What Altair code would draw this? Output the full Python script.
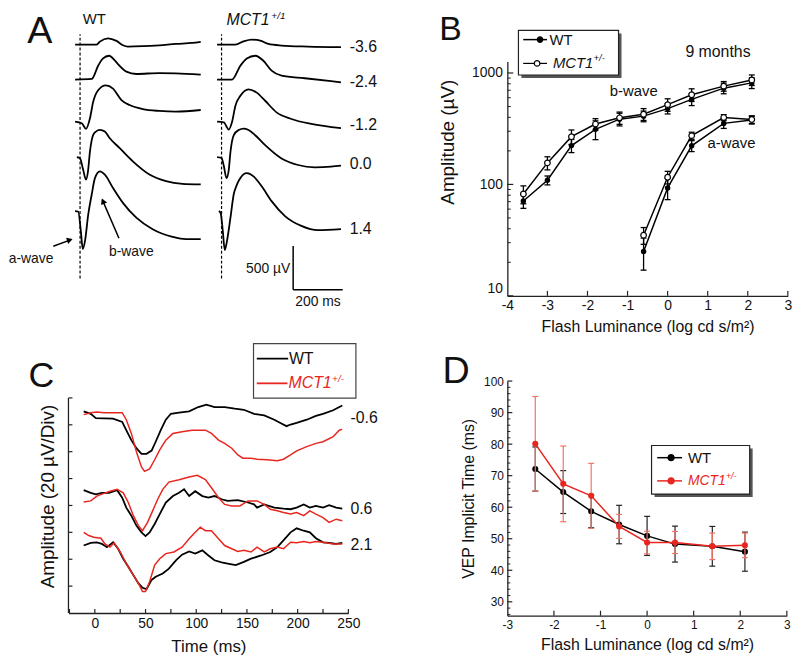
import altair as alt
import pandas as pd

FONT = "Liberation Sans"
INK = "#111111"
RED = "#e8261f"
RED_BAR = "#f07466"

# ================= Panel A : ERG traces (ms from flash, µV from baseline) =================
a_levels = ["-3.6", "-2.4", "-1.2", "0.0", "1.4"]

a_wt_m36_t = [-20, 67, 80, 113, 147, 173, 193, 253, 320, 387, 453, 487]
a_wt_m36_v = [0, 0, 34, 72, 42, -8, -23, -19, -8, 8, 19, 31]
a_wt_m24_t = [-20, 47, 73, 92, 117, 140, 153, 187, 227, 320, 387, 487]
a_wt_m24_v = [0, 7, 159, 240, 273, 220, 177, 91, 64, 75, 72, 57]
a_wt_m12_t = [-20, 7, 24, 40, 53, 73, 104, 133, 167, 200, 253, 320, 387, 487]
a_wt_m12_v = [0, -19, -83, 38, 227, 360, 415, 378, 247, 190, 144, 122, 114, 133]
a_wt_p00_t = [-13, 0, 12, 24, 32, 40, 53, 64, 80, 100, 120, 160, 213, 280, 347, 413, 487]
a_wt_p00_v = [0, -15, -140, -257, -163, 65, 255, 292, 311, 292, 216, 102, -49, -200, -276, -307, -314]
a_wt_p14_t = [-20, -7, 3, 11, 20, 33, 47, 60, 80, 100, 133, 173, 227, 293, 373, 427, 487]
a_wt_p14_v = [0, -8, -227, -435, -341, -38, 190, 378, 455, 417, 265, 94, -76, -208, -295, -322, -322]

a_mct_m36_t = [-18, 56, 89, 122, 156, 189, 242, 349, 482]
a_mct_m36_v = [0, 0, 37, 57, 45, 7, -11, -23, -30]
a_mct_m24_t = [-18, 42, 76, 102, 136, 169, 202, 242, 336, 482]
a_mct_m24_v = [0, 0, 159, 242, 273, 216, 102, 45, 15, -31]
a_mct_m12_t = [-18, 9, 29, 42, 56, 76, 109, 142, 176, 222, 282, 362, 482]
a_mct_m12_v = [0, -8, -91, -8, 182, 295, 369, 332, 239, 106, 30, -27, -76]
a_mct_p00_t = [-18, 0, 9, 20, 29, 36, 49, 69, 89, 109, 136, 176, 242, 309, 376, 442, 482]
a_mct_p00_v = [0, -10, -100, -242, -150, 60, 250, 310, 326, 310, 250, 136, -16, -91, -117, -110, -99]
a_mct_p14_t = [-11, -4, 5, 13, 22, 36, 49, 62, 76, 102, 129, 162, 202, 256, 322, 389, 482]
a_mct_p14_v = [0, -19, -227, -447, -341, -76, 190, 303, 379, 435, 398, 284, 114, -57, -170, -219, -208]

# ================= Panel B : ERG amplitudes =================
b_lum = [-3.6, -3.0, -2.4, -1.8, -1.2, -0.6, 0.0, 0.6, 1.4, 2.1]
b_wt_bwave = [71, 109, 223, 312, 385, 410, 479, 580, 731, 815]
b_wt_bwave_err = [10, 10, 30, 60, 50, 45, 50, 70, 80, 90]
b_mct_bwave = [82, 156, 268, 348, 396, 427, 520, 638, 762, 866]
b_mct_bwave_err = [15, 21, 40, 41, 50, 52, 67, 83, 76, 94]
b_lum_a = [-0.6, 0.0, 0.6, 1.4, 2.1]
b_wt_awave = [25, 93, 222, 353, 378]
b_wt_awave_err = [8, 20, 25, 35, 30]
b_mct_awave = [35, 116, 274, 398, 383]
b_mct_awave_err = [6, 15, 20, 25, 30]

# ================= Panel C : VEP traces (ms, divisions of 20 µV) =================
c_wt_m06_t = [-11, -4, 1, 9, 18, 27, 31, 36, 41, 46, 51, 56, 60, 65, 70, 75, 83, 93, 102, 110, 118, 128, 138, 147,
              157, 167, 177, 183, 189, 193, 199, 209, 218, 225, 235, 244]
c_wt_m06_v = [7.50, 7.41, 7.25, 7.24, 7.23, 7.11, 6.80, 6.43, 6.13, 5.92, 5.92, 6.04, 6.37, 6.80, 7.19, 7.41, 7.45,
              7.50, 7.66, 7.75, 7.66, 7.66, 7.60, 7.56, 7.41, 7.35, 7.19, 7.07, 6.95, 7.01, 7.07, 7.19, 7.33, 7.41,
              7.54, 7.72]
c_mct_m06_t = [-11, -4, 2, 9, 15, 27, 31, 36, 41, 46, 49, 54, 59, 64, 70, 77, 86, 96, 109, 115, 122, 128, 135, 141,
               146, 154, 160, 170, 180, 186, 193, 199, 209, 218, 225, 235, 241, 244]
c_mct_m06_v = [7.38, 7.45, 7.48, 7.45, 7.45, 7.45, 7.19, 6.68, 6.00, 5.43, 5.27, 5.36, 5.70, 6.07, 6.43, 6.68, 6.74,
               6.80, 6.80, 6.68, 6.43, 6.31, 6.13, 5.88, 5.76, 5.76, 5.72, 5.70, 5.66, 5.72, 5.88, 6.03, 6.19, 6.31,
               6.37, 6.56, 6.80, 6.83]
c_wt_p06_t = [-11, -4, 1, 7, 14, 22, 27, 31, 36, 41, 46, 50, 54, 59, 64, 70, 77, 83, 88, 93, 99, 106, 112, 118, 125,
              131, 141, 151, 157, 160, 167, 177, 186, 193, 199, 206, 212, 218, 225, 231, 238, 244]
c_wt_p06_v = [4.57, 4.47, 4.41, 4.47, 4.47, 4.57, 4.29, 3.92, 3.62, 3.25, 3.00, 2.86, 3.00, 3.31, 3.68, 4.11, 4.35,
              4.47, 4.60, 4.35, 4.53, 4.35, 4.29, 4.35, 4.23, 4.17, 4.20, 4.11, 4.04, 3.92, 4.04, 3.92, 3.88, 3.86,
              3.92, 4.04, 3.92, 3.98, 3.92, 4.01, 3.92, 3.88]
c_mct_p06_t = [-11, -4, 2, 9, 15, 22, 28, 33, 38, 43, 47, 52, 57, 62, 67, 73, 83, 93, 101, 109, 115, 122, 128, 135,
               143, 151, 160, 167, 173, 180, 186, 193, 199, 206, 212, 218, 225, 231, 238, 244]
c_mct_p06_v = [4.13, 4.17, 4.35, 4.45, 4.53, 4.60, 4.47, 4.11, 3.62, 3.25, 3.06, 3.37, 3.80, 4.23, 4.60, 4.87, 4.96,
               5.06, 5.12, 4.96, 4.66, 4.29, 4.04, 3.98, 3.98, 4.17, 4.17, 4.04, 3.86, 3.80, 3.74, 3.68, 3.74, 3.62,
               3.80, 3.68, 3.55, 3.37, 3.49, 3.43]
c_wt_p21_t = [-11, -4, 2, 7, 12, 18, 23, 28, 33, 38, 43, 47, 51, 56, 60, 67, 73, 80, 86, 93, 99, 106, 112, 118, 125,
              131, 139, 147, 154, 164, 173, 180, 186, 193, 199, 206, 212, 218, 225, 231, 238, 244]
c_wt_p21_v = [2.51, 2.61, 2.63, 2.57, 2.45, 2.63, 2.39, 2.02, 1.72, 1.41, 1.10, 0.94, 0.89, 1.23, 1.35, 1.47, 1.65,
              1.96, 2.17, 2.29, 2.21, 2.33, 2.14, 1.96, 1.88, 1.84, 1.78, 1.90, 2.02, 2.14, 2.27, 2.45, 2.70, 3.00,
              3.15, 3.06, 3.00, 2.78, 2.63, 2.61, 2.57, 2.61]
c_mct_p21_t = [-11, -6, -1, 6, 10, 15, 19, 25, 31, 38, 43, 47, 50, 54, 59, 64, 70, 78, 86, 93, 99, 104, 109, 115,
               122, 128, 135, 141, 147, 154, 160, 167, 173, 180, 186, 193, 199, 206, 212, 218, 225, 235, 244]
c_mct_p21_v = [3.00, 2.88, 2.82, 2.78, 2.57, 2.45, 2.61, 2.27, 1.84, 1.41, 1.10, 0.80, 0.80, 1.16, 1.78, 2.02, 2.21,
               2.27, 2.45, 2.76, 3.00, 3.19, 3.06, 3.06, 2.76, 2.51, 2.39, 2.29, 2.33, 2.27, 2.45, 2.27, 2.39, 2.45,
               2.39, 2.63, 2.61, 2.66, 2.61, 2.66, 2.63, 2.57, 2.57]
c_labels = ["-0.6", "0.6", "2.1"]

# ================= Panel D : VEP implicit time =================
d_lum = [-2.4, -1.8, -1.2, -0.6, 0.0, 0.6, 1.4, 2.1]
d_wt = [72.1, 64.8, 58.7, 54.5, 50.9, 48.3, 47.6, 45.9]
d_wt_err = [7.0, 6.8, 5.2, 6.1, 6.2, 5.7, 6.3, 6.2]
d_mct = [80.1, 67.4, 63.6, 53.9, 48.8, 48.8, 47.6, 47.9]
d_mct_err = [15.0, 12.0, 10.3, 3.8, 3.6, 3.5, 4.2, 3.9]

# ================= layout (pixels / offsets) =================
A_W, A_H = 282.4, 236.5
B_W, B_H = 283.0, 236.5
C_W, C_H = 282.4, 234.0
D_W, D_H = 282.0, 236.7
SP_ROW, SP_COL = 85.5, 159.8

A_XDOM = [-46.8, 1082.8]
A_YDOM = [0, 2687.5]
A_BASE = [2880.7, 2479.5, 1997.7, 1590.9, 971.6]
A_LABEL_Y = [2858, 2449, 1960, 1506, 767]
A_MCT_SHIFT = 571

ONE = pd.DataFrame({"k": [0]})


def axis(**kw):
    base = dict(grid=False, ticks=False, tickSize=0, domainColor="#222222", domainWidth=1.3,
                labelFont=FONT, titleFont=FONT, labelColor=INK, titleColor=INK, labelFlush=False,
                titleFontWeight="normal", labelFontWeight="normal")
    base.update(kw)
    return alt.Axis(**base)


def ptext(txt, x, y, size, color=INK, italic=False, align="left", baseline="middle"):
    mk = dict(align=align, baseline=baseline, font=FONT, fontSize=size, color=color)
    if italic:
        mk["fontStyle"] = "italic"
    return alt.Chart(ONE).mark_text(**mk).encode(x=alt.value(x), y=alt.value(y), text=alt.value(txt))


def prect(x1, y1, x2, y2, fill, stroke=None, sw=0):
    mk = dict(fill=fill)
    if stroke:
        mk.update(stroke=stroke, strokeWidth=sw)
    return alt.Chart(ONE).mark_rect(**mk).encode(x=alt.value(x1), x2=alt.value(x2),
                                                 y=alt.value(y1), y2=alt.value(y2))


def prule(x1, y1, x2, y2, color=INK, sw=1.5, opacity=1.0):
    return alt.Chart(ONE).mark_rule(color=color, strokeWidth=sw, opacity=opacity).encode(
        x=alt.value(x1), x2=alt.value(x2), y=alt.value(y1), y2=alt.value(y2))


def ppoint(x, y, fill, stroke, size):
    return alt.Chart(ONE).mark_point(shape="circle", filled=True, fill=fill, stroke=stroke,
                                     strokeWidth=1.2, size=size, opacity=1).encode(
        x=alt.value(x), y=alt.value(y))


def dtext(df, xenc, yenc, size, align="left"):
    return alt.Chart(df).mark_text(align=align, baseline="middle", font=FONT, fontSize=size,
                                   color=INK).encode(x=xenc, y=yenc, text="t:N")


# ---------------- Panel A ----------------
SAX = alt.Scale(domain=A_XDOM, nice=False, zero=False)
SAY = alt.Scale(domain=A_YDOM, nice=False, zero=False)


def AX(f):
    return alt.X(f"{f}:Q", scale=SAX, axis=None)


def AY(f):
    return alt.Y(f"{f}:Q", scale=SAY, axis=None)


wt_traces = [(a_wt_m36_t, a_wt_m36_v), (a_wt_m24_t, a_wt_m24_v), (a_wt_m12_t, a_wt_m12_v),
             (a_wt_p00_t, a_wt_p00_v), (a_wt_p14_t, a_wt_p14_v)]
mct_traces = [(a_mct_m36_t, a_mct_m36_v), (a_mct_m24_t, a_mct_m24_v), (a_mct_m12_t, a_mct_m12_v),
              (a_mct_p00_t, a_mct_p00_v), (a_mct_p14_t, a_mct_p14_v)]
rows = []
for geno, shift, traces in [("WT", 0, wt_traces), ("MCT1", A_MCT_SHIFT, mct_traces)]:
    for i, (ts, vs) in enumerate(traces):
        for t, v in zip(ts, vs):
            rows.append({"trace": f"{geno}{i}", "x": t + shift, "y": v + A_BASE[i]})
dfA = pd.DataFrame(rows)

a_lines = alt.Chart(dfA).mark_line(color="black", strokeWidth=1.8, interpolate="monotone").encode(
    x=AX("x"), y=AY("y"), detail="trace:N")
a_dash = alt.Chart(pd.DataFrame({"x": [0, A_MCT_SHIFT], "y": [199, 199], "y2": [2998, 2998]})).mark_rule(
    color="black", strokeWidth=1.2, strokeDash=[3, 2]).encode(x=AX("x"), y=AY("y"), y2="y2:Q")
a_lab = dtext(pd.DataFrame({"x": [1088] * 5, "y": A_LABEL_Y, "t": a_levels}), AX("x"), AY("y"), 16)
a_bar = alt.Chart(pd.DataFrame({"x": [860, 860], "y": [70, 70], "x2": [860, 1060], "y2": [570, 70]})).mark_rule(
    color="black", strokeWidth=1.5).encode(x=AX("x"), y=AY("y"), x2="x2:Q", y2="y2:Q")
a_500 = dtext(pd.DataFrame({"x": [848], "y": [309], "t": ["500 µV"]}), AX("x"), AY("y"), 14, "right")
a_200 = dtext(pd.DataFrame({"x": [960], "y": [-70], "t": ["200 ms"]}), AX("x"), AY("y"), 14, "center")
a_bw = dtext(pd.DataFrame({"x": [207], "y": [498], "t": ["b-wave"]}), AX("x"), AY("y"), 14, "center")
a_aw = dtext(pd.DataFrame({"x": [-288], "y": [423], "t": ["a-wave"]}), AX("x"), AY("y"), 14, "left")
a_arrows = alt.Chart(pd.DataFrame({"x": [157, -108], "y": [661, 568], "x2": [90, -36], "y2": [1100, 645]})).mark_rule(
    color="black", strokeWidth=1.5).encode(x=AX("x"), y=AY("y"), x2="x2:Q", y2="y2:Q")
a_heads = alt.Chart(pd.DataFrame({"x": [92.4, -41.2], "y": [1086, 641], "ang": [336.6, 72.2]})).mark_point(
    shape="triangle-up", filled=True, color="black", size=45, opacity=1).encode(
    x=AX("x"), y=AY("y"), angle=alt.Angle("ang:Q", scale=None))

chartA = alt.layer(
    a_lines, a_dash, a_lab, a_bar, a_500, a_200, a_bw, a_aw, a_arrows, a_heads,
    prule(100, -51, 100, -50.6, "white", 0.1, 0.0),  # invisible anchor of the top edge
    ptext("A", -41.6, -49, 38, baseline="top"),
    ptext("WT", 14.4, -50, 15, baseline="top"),
    ptext("MCT1", 159.4, -50, 16, italic=True, baseline="top"),
    ptext("+/1", 204.7, -50.5, 10, italic=True, baseline="top"),
).properties(width=A_W, height=A_H)

# ---------------- Panel B ----------------
SBX = alt.Scale(domain=[-4, 3], nice=False, zero=False)
SBY = alt.Scale(type="log", domain=[10, 1270], nice=False)

rows = []
for wave, xs, wt, wte, mc, mce in [("b", b_lum, b_wt_bwave, b_wt_bwave_err, b_mct_bwave, b_mct_bwave_err),
                                   ("a", b_lum_a, b_wt_awave, b_wt_awave_err, b_mct_awave, b_mct_awave_err)]:
    for geno, ys, es in [("WT", wt, wte), ("MCT1", mc, mce)]:
        for x, y, e in zip(xs, ys, es):
            rows.append({"series": f"{wave}-{geno}", "geno": geno, "x": x, "y": y, "lo": y - e, "hi": y + e})
dfB = pd.DataFrame(rows)

b_axx = axis(values=[-4, -3, -2, -1, 0, 1, 2, 3], labelExpr="datum.value + ''", labelFontSize=14,
             labelPadding=3, title="Flash Luminance (log cd s/m²)", titleFontSize=16, titlePadding=6)
b_axy = axis(values=[10, 100, 1000], format="d", labelFontSize=14, labelPadding=5, labelFlush=True,
             title="Amplitude (µV)", titleFontSize=19, titlePadding=14, titleY=81)


def BX(f):
    return alt.X(f"{f}:Q", scale=SBX, axis=b_axx)


def BY(f):
    return alt.Y(f"{f}:Q", scale=SBY, axis=b_axy)


b_lines = alt.Chart(dfB).mark_line(color="black", strokeWidth=1.5).encode(
    x=BX("x"), y=BY("y"), detail="series:N")
b_err = alt.Chart(dfB).mark_rule(color="black", strokeWidth=1.3).encode(x=BX("x"), y=BY("lo"), y2="hi:Q")
b_cap_lo = alt.Chart(dfB).mark_tick(orient="horizontal", size=6, thickness=1.3, color="black", opacity=1).encode(
    x=BX("x"), y=BY("lo"))
b_cap_hi = alt.Chart(dfB).mark_tick(orient="horizontal", size=6, thickness=1.3, color="black", opacity=1).encode(
    x=BX("x"), y=BY("hi"))
b_pts_wt = alt.Chart(dfB).transform_filter("datum.geno == 'WT'").mark_point(
    shape="circle", filled=True, color="black", size=30, opacity=1).encode(x=BX("x"), y=BY("y"))
b_pts_mct = alt.Chart(dfB).transform_filter("datum.geno == 'MCT1'").mark_point(
    shape="circle", filled=True, fill="white", stroke="black", strokeWidth=1.2, size=32, opacity=1).encode(
    x=BX("x"), y=BY("y"))

b_major = [10, 100, 1000]
b_minor = [20, 30, 40, 50, 60, 70, 80, 90, 200, 300, 400, 500, 600, 700, 800, 900]
b_xt = [-3, -2, -1, 0, 1, 2, 3]
b_tk1 = alt.Chart(pd.DataFrame({"v": b_major})).mark_rule(color="#222222", strokeWidth=1.2).encode(
    y=BY("v"), x=alt.value(0), x2=alt.value(6))
b_tk2 = alt.Chart(pd.DataFrame({"v": b_minor})).mark_rule(color="#222222", strokeWidth=1.0).encode(
    y=BY("v"), x=alt.value(0), x2=alt.value(3.5))
b_tk3 = alt.Chart(pd.DataFrame({"v": b_xt})).mark_rule(color="#222222", strokeWidth=1.2).encode(
    x=BX("v"), y=alt.value(B_H), y2=alt.value(B_H - 5))

chartB = alt.layer(
    b_lines, b_err, b_cap_lo, b_cap_hi, b_pts_wt, b_pts_mct, b_tk1, b_tk2, b_tk3,
    prect(14.2, -28.3, 115.2, 16.7, "#555555"),
    prect(11.2, -31.3, 112.2, 13.7, "white", "#222222", 1.2),
    prule(16, -22, 40, -22, "black", 1.5), ppoint(33, -22, "black", "black", 30),
    ptext("WT", 42.5, -22, 15),
    prule(16, 2, 40, 2, "black", 1.2), ppoint(30, 2, "white", "black", 32),
    ptext("MCT1", 46, 2, 15, italic=True),
    ptext("+/-", 87, -3, 9.5, italic=True),
    ptext("9 months", 212.5, -9.7, 16, align="center"),
    ptext("b-wave", 127.5, 30, 15, align="center"),
    ptext("a-wave", 226.2, 82.7, 15, align="center"),
    ptext("B", -68.8, -49, 34, baseline="top"),
).properties(width=B_W, height=B_H)

# ---------------- Panel C ----------------
SCX = alt.Scale(domain=[-26, 250], nice=False, zero=False)
SCY = alt.Scale(domain=[0, 8.627], nice=False, zero=False)

c_axx = axis(values=[0, 50, 100, 150, 200, 250], labelFontSize=14, labelPadding=4,
             title="Time (ms)", titleFontSize=17, titlePadding=8)
c_axy = axis(values=[0, 8], labels=False, domain=False, title="Amplitude (20 µV/Div)", titleFontSize=19,
             titlePadding=11, titleY=116)


def CX(f):
    return alt.X(f"{f}:Q", scale=SCX, axis=c_axx)


def CY(f):
    return alt.Y(f"{f}:Q", scale=SCY, axis=c_axy)


rows = []
for geno, lvl, ts, vs in [("WT", "-0.6", c_wt_m06_t, c_wt_m06_v), ("MCT1", "-0.6", c_mct_m06_t, c_mct_m06_v),
                          ("WT", "0.6", c_wt_p06_t, c_wt_p06_v), ("MCT1", "0.6", c_mct_p06_t, c_mct_p06_v),
                          ("WT", "2.1", c_wt_p21_t, c_wt_p21_v), ("MCT1", "2.1", c_mct_p21_t, c_mct_p21_v)]:
    for t, v in zip(ts, vs):
        rows.append({"trace": f"{geno}{lvl}", "geno": geno, "x": t, "y": v})
dfC = pd.DataFrame(rows)

c_wt = alt.Chart(dfC).transform_filter("datum.geno == 'WT'").mark_line(color="black", strokeWidth=1.8).encode(
    x=CX("x"), y=CY("y"), detail="trace:N")
c_mc = alt.Chart(dfC).transform_filter("datum.geno == 'MCT1'").mark_line(color=RED, strokeWidth=1.5).encode(
    x=CX("x"), y=CY("y"), detail="trace:N")
c_lab = dtext(pd.DataFrame({"x": [252, 252, 252], "y": [7.26, 3.87, 2.52], "t": c_labels}), CX("x"), CY("y"), 16)
c_xt = [-25, 0, 25, 50, 75, 100, 125, 150, 175, 200, 225, 250]
c_yt = [1, 2, 3, 4, 5, 6, 7, 8]
c_tk1 = alt.Chart(pd.DataFrame({"v": c_xt})).mark_rule(color="#222222", strokeWidth=1.2).encode(
    x=CX("v"), y=alt.value(C_H), y2=alt.value(C_H - 4))
c_tk2 = alt.Chart(pd.DataFrame({"v": c_yt})).mark_rule(color="#222222", strokeWidth=1.2).encode(
    y=CY("v"), x=alt.value(0), x2=alt.value(4))
c_yline = alt.Chart(pd.DataFrame({"x": [-26], "a": [0], "b": [8]})).mark_rule(
    color="#222222", strokeWidth=1.3).encode(x=CX("x"), y=CY("a"), y2="b:Q")

chartC = alt.layer(
    c_wt, c_mc, c_lab, c_tk1, c_tk2, c_yline,
    prect(186.7, -37.7, 290, 17.3, "white", "#444444", 1.2),
    prule(190, -22.7, 221.7, -22.7, "black", 1.8),
    ptext("WT", 222.4, -22.7, 16),
    prule(190, 2.3, 221, 2.3, RED, 1.8),
    ptext("MCT1", 222, 2.3, 16, color=RED, italic=True),
    ptext("+/-", 266, -2.5, 10, color=RED, italic=True),
    ptext("C", -40.3, -22.5, 36, baseline="top"),
).properties(width=C_W, height=C_H)

# ---------------- Panel D ----------------
SDX = alt.Scale(domain=[-3, 3], nice=False, zero=False)
SDY = alt.Scale(domain=[25.6, 100], nice=False, zero=False)

d_axx = axis(values=[-3, -2, -1, 0, 1, 2, 3], labelExpr="datum.value + ''", labelFontSize=12, labelPadding=4,
             title="Flash Luminance (log cd s/m²)", titleFontSize=16, titlePadding=6)
d_axy = axis(values=[30, 40, 50, 60, 70, 80, 90, 100], labelFontSize=12, labelPadding=4,
             title="VEP Implicit Time (ms)", titleFontSize=16, titlePadding=7)


def DX(f):
    return alt.X(f"{f}:Q", scale=SDX, axis=d_axx)


def DY(f):
    return alt.Y(f"{f}:Q", scale=SDY, axis=d_axy)


rows = []
for geno, ys, es in [("WT", d_wt, d_wt_err), ("MCT1", d_mct, d_mct_err)]:
    for x, y, e in zip(d_lum, ys, es):
        rows.append({"geno": geno, "x": x, "y": y, "lo": y - e, "hi": y + e})
dfD = pd.DataFrame(rows)


def d_layers(geno, line_col, bar_col):
    base = alt.Chart(dfD).transform_filter(f"datum.geno == '{geno}'")
    line = base.mark_line(color=line_col, strokeWidth=1.5).encode(x=DX("x"), y=DY("y"))
    err = base.mark_rule(color=bar_col, strokeWidth=1.2).encode(x=DX("x"), y=DY("lo"), y2="hi:Q")
    lo = base.mark_tick(orient="horizontal", size=6, thickness=1.2, color=bar_col, opacity=1).encode(
        x=DX("x"), y=DY("lo"))
    hi = base.mark_tick(orient="horizontal", size=6, thickness=1.2, color=bar_col, opacity=1).encode(
        x=DX("x"), y=DY("hi"))
    pts = base.mark_point(shape="circle", filled=True, color=line_col, size=38, opacity=1).encode(
        x=DX("x"), y=DY("y"))
    return [line, err, lo, hi, pts]


d_ymaj = [30, 40, 50, 60, 70, 80, 90, 100]
d_ymin = [26, 28, 32, 34, 36, 38, 42, 44, 46, 48, 52, 54, 56, 58, 62, 64, 66, 68, 72, 74, 76, 78, 82, 84, 86, 88,
          92, 94, 96, 98]
d_xmaj = [-2, -1, 0, 1, 2, 3]
d_tk = [
    alt.Chart(pd.DataFrame({"v": d_ymaj})).mark_rule(color="#222222", strokeWidth=1.2).encode(
        y=DY("v"), x=alt.value(0), x2=alt.value(5)),
    alt.Chart(pd.DataFrame({"v": d_ymin})).mark_rule(color="#222222", strokeWidth=1.0).encode(
        y=DY("v"), x=alt.value(0), x2=alt.value(3)),
    alt.Chart(pd.DataFrame({"v": d_xmaj})).mark_rule(color="#222222", strokeWidth=1.2).encode(
        x=DX("v"), y=alt.value(D_H), y2=alt.value(D_H - 5)),
]

chartD = alt.layer(
    *d_layers("WT", "black", "#222222"),
    *d_layers("MCT1", RED, RED_BAR),
    *d_tk,
    prect(148.5, 68, 247.5, 117, "#555555"),
    prect(145.5, 65, 244.5, 114, "white", "#222222", 1.2),
    prule(151.2, 77.3, 176.2, 77.3, "black", 1.5), ppoint(165.2, 77.3, "black", "black", 38),
    ptext("WT", 182.2, 77.3, 15),
    prule(151.2, 100.7, 176.2, 100.7, RED, 1.5), ppoint(165.2, 100.7, RED, RED, 38),
    ptext("MCT1", 182.2, 100.7, 14, color=RED, italic=True),
    ptext("+/-", 220.5, 96, 9, color=RED, italic=True),
    ptext("D", -65.5, -28, 38, baseline="top"),
).properties(width=D_W, height=D_H)

# ---------------- assemble ----------------
chart = alt.concat(chartA, chartB, chartC, chartD, columns=2, bounds="flush",
                   spacing={"row": SP_ROW, "column": SP_COL}).properties(padding=0).configure(
    font=FONT).configure_view(strokeOpacity=0)

chart.save("out.html", embed_options={"renderer": "svg", "actions": False})
